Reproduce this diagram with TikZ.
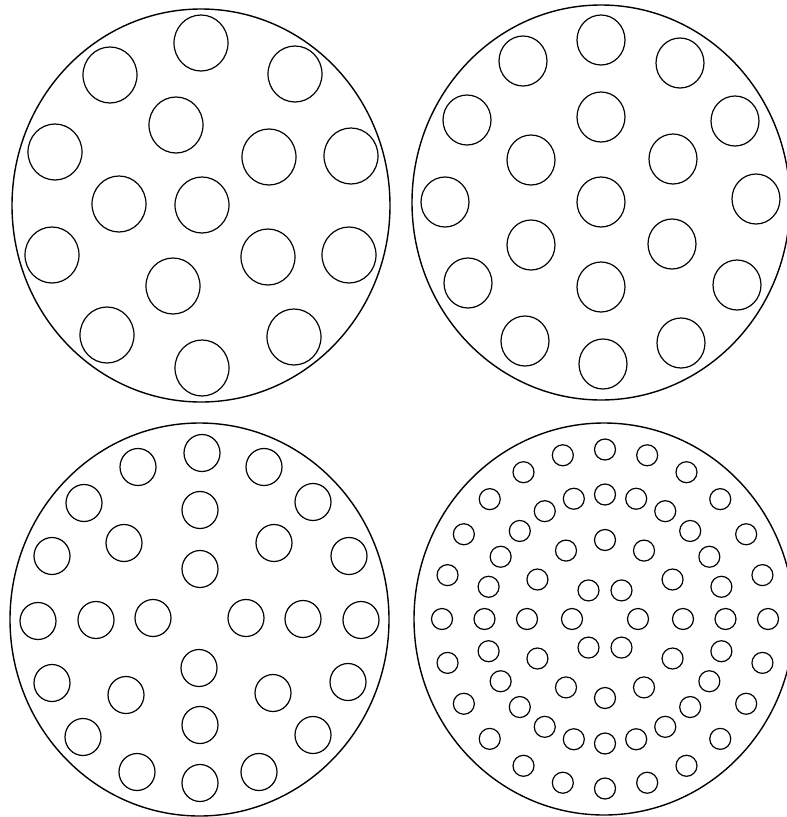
\documentclass[tikz,border=0pt]{standalone}
\begin{document}
\begin{tikzpicture}[
  x=1pt, y=-1pt,
  rim/.style={draw=black, line width=1.4pt},
  bore/.style={draw=black, line width=1.2pt}
]
\useasboundingbox (0,0) rectangle (787,817);

% --- Placa 1: 16 furos ---
\draw[rim] (201,205.5) circle [x radius=189, y radius=196.5];
\foreach \px/\py in {201/43, 110/75, 295/74, 176/125, 55/152, 269/157,
  351/156, 119/204, 202/205, 52/255, 268/257, 349/255, 173/286,
  107/335, 294/337, 202/368}{
  \draw[bore] (\px,\py) circle [x radius=27, y radius=28];
}

% --- Placa 2: 19 furos ---
\draw[rim] (601,202.5) circle [x radius=189, y radius=197.5];
\foreach \px/\py in {601/40, 523/61, 680/63, 467/120, 601/117, 735/121,
  531/160, 673/159, 445/202, 601/202, 756/199, 531/245, 672/244,
  468/283, 601/287, 737/285, 525/341, 681/343, 603/364}{
  \draw[bore] (\px,\py) circle [x radius=24, y radius=25];
}

% --- Placa 3: 28 furos ---
\draw[rim] (199.5,619.5) circle [x radius=189.5, y radius=196.5];
\foreach \px/\py in {202/453, 138/467, 264/467, 84/503, 200/510, 313/502,
  124/543, 274/543, 52/556, 200/569, 349/556, 38/621, 96/620, 153/618,
  246/618, 303/619, 361/620, 199/668, 52/683, 126/695, 273/693,
  348/682, 200/725, 83/737, 313/735, 137/772, 200/783, 259/772}{
  \draw[bore] (\px,\py) circle [x radius=18, y radius=18.5];
}

% --- Placa 4: aneis concentricos ---
\draw[rim] (604,619) circle [x radius=190, y radius=196];
\begin{scope}[shift={(605,619)}]
  \foreach \a in {0,60,...,300}{
    \draw[bore] (\a:33 and 33) circle [radius=10.5];
  }
  \foreach \a in {0,30,...,330}{
    \draw[bore] (\a:78 and 79) circle [radius=10.5];
  }
  \foreach \a in {0,15,...,345}{
    \draw[bore] (\a:120.5 and 124.5) circle [radius=10.5];
  }
  \foreach \a in {0,15,...,345}{
    \draw[bore] (\a:163 and 169.5) circle [radius=10.5];
  }
\end{scope}

\end{tikzpicture}
\end{document}
